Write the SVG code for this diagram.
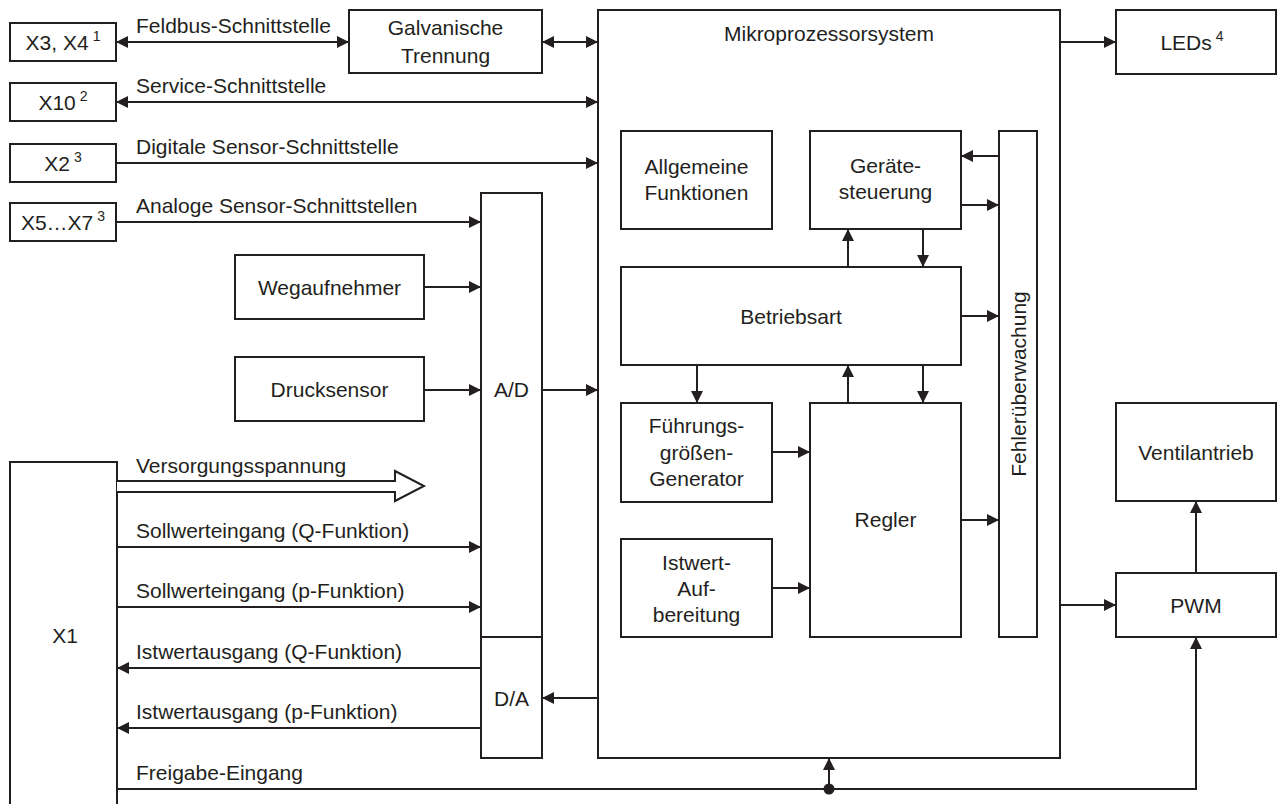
<svg xmlns="http://www.w3.org/2000/svg" width="1279" height="804" viewBox="0 0 1279 804">
<style>
.box{fill:#fff;stroke:#231f20;stroke-width:2}
.ln{fill:none;stroke:#231f20;stroke-width:2}
.t{font-family:"Liberation Sans",Arial,Helvetica,sans-serif;font-size:21px;fill:#231f20}
.c{text-anchor:middle}
.sup{font-size:14px}
</style>
<defs>
<marker id="ah" markerUnits="userSpaceOnUse" markerWidth="12" markerHeight="12" refX="12" refY="6" orient="auto-start-reverse">
<path d="M0,0 L12,6 L0,12 Z" fill="#231f20"/>
</marker>
</defs>
<rect width="1279" height="804" fill="#fff"/>

<g id="micro"><rect class="box" x="598" y="10" width="462" height="748"/><text class="t c" x="829" y="41">Mikroprozessorsystem</text></g>
<g id="x3x4"><rect class="box" x="10" y="23" width="106" height="38"/><text class="t c" x="63" y="50">X3, X4<tspan class="sup" dx="4" dy="-9">1</tspan></text></g>
<g id="x10"><rect class="box" x="10" y="83" width="106" height="38"/><text class="t c" x="63" y="110">X10<tspan class="sup" dx="4" dy="-9">2</tspan></text></g>
<g id="x2"><rect class="box" x="10" y="144" width="106" height="38"/><text class="t c" x="63" y="171">X2<tspan class="sup" dx="4" dy="-9">3</tspan></text></g>
<g id="x5x7"><rect class="box" x="10" y="203" width="106" height="38"/><text class="t c" x="63" y="230">X5…X7<tspan class="sup" dx="4" dy="-9">3</tspan></text></g>
<g id="galv"><rect class="box" x="349" y="10" width="193" height="63"/><text class="t c" x="445.5" y="35">Galvanische</text><text class="t c" x="445.5" y="63">Trennung</text></g>
<g id="weg"><rect class="box" x="235" y="255" width="189" height="64"/><text class="t c" x="329.5" y="294.5">Wegaufnehmer</text></g>
<g id="druck"><rect class="box" x="235" y="357" width="189" height="64"/><text class="t c" x="329.5" y="396.5">Drucksensor</text></g>
<g id="ad"><rect class="box" x="481" y="193" width="61" height="444"/><text class="t c" x="511.5" y="397">A/D</text></g>
<g id="da"><rect class="box" x="481" y="637" width="61" height="121"/><text class="t c" x="511.5" y="705.5">D/A</text></g>
<g id="x1"><rect class="box" x="10" y="462" width="107" height="380"/><text class="t c" x="65" y="643">X1</text></g>
<g id="allg"><rect class="box" x="621" y="131" width="151" height="98"/><text class="t c" x="696.5" y="174">Allgemeine</text><text class="t c" x="696.5" y="200">Funktionen</text></g>
<g id="geraete"><rect class="box" x="810" y="131" width="151" height="98"/><text class="t c" x="885.5" y="173">Geräte-</text><text class="t c" x="885.5" y="199">steuerung</text></g>
<g id="betrieb"><rect class="box" x="621" y="267" width="340" height="98"/><text class="t c" x="791" y="323.5">Betriebsart</text></g>
<g id="fuehr"><rect class="box" x="621" y="403" width="151" height="99"/><text class="t c" x="696.5" y="433">Führungs-</text><text class="t c" x="696.5" y="460">größen-</text><text class="t c" x="696.5" y="486">Generator</text></g>
<g id="regler"><rect class="box" x="810" y="403" width="151" height="234"/><text class="t c" x="885.5" y="527">Regler</text></g>
<g id="istwert"><rect class="box" x="621" y="539" width="151" height="98"/><text class="t c" x="696.5" y="570">Istwert-</text><text class="t c" x="696.5" y="596">Auf-</text><text class="t c" x="696.5" y="622">bereitung</text></g>
<g id="fehler"><rect class="box" x="999" y="131" width="38" height="506"/><text class="t c" transform="translate(1025.5,384) rotate(-90)">Fehlerüberwachung</text></g>
<g id="leds"><rect class="box" x="1116" y="10" width="160" height="64"/><text class="t c" x="1192" y="50">LEDs<tspan class="sup" dx="4" dy="-9">4</tspan></text></g>
<g id="ventil"><rect class="box" x="1116" y="403" width="160" height="98"/><text class="t c" x="1196" y="459.5">Ventilantrieb</text></g>
<g id="pwm"><rect class="box" x="1116" y="573" width="160" height="64"/><text class="t c" x="1196" y="612.5">PWM</text></g>

<g id="connectors">
<path class="ln" d="M116,42 H349" marker-start="url(#ah)" marker-end="url(#ah)"/>
<path class="ln" d="M542,42 H598" marker-start="url(#ah)" marker-end="url(#ah)"/>
<path class="ln" d="M116,102 H598" marker-start="url(#ah)" marker-end="url(#ah)"/>
<path class="ln" d="M116,163 H598" marker-end="url(#ah)"/>
<path class="ln" d="M116,222 H481" marker-end="url(#ah)"/>
<path class="ln" d="M424,287 H481" marker-end="url(#ah)"/>
<path class="ln" d="M424,390 H481" marker-end="url(#ah)"/>
<path class="ln" d="M542,390 H598" marker-end="url(#ah)"/>
<path class="ln" d="M117,481 H395 V471 L424,486 L395,501 V492 H117" style="fill:#fff"/>
<path class="ln" d="M117,547 H481" marker-end="url(#ah)"/>
<path class="ln" d="M117,607 H481" marker-end="url(#ah)"/>
<path class="ln" d="M481,668 H117" marker-end="url(#ah)"/>
<path class="ln" d="M481,728 H117" marker-end="url(#ah)"/>
<path class="ln" d="M598,698 H542" marker-end="url(#ah)"/>
<path class="ln" d="M117,789 H1196 V637" marker-end="url(#ah)"/>
<path class="ln" d="M829,789 V758" marker-end="url(#ah)"/>
<circle cx="829" cy="789" r="5.5" fill="#231f20"/>
<path class="ln" d="M1060,42 H1116" marker-end="url(#ah)"/>
<path class="ln" d="M1060,605 H1116" marker-end="url(#ah)"/>
<path class="ln" d="M1196,573 V501" marker-end="url(#ah)"/>
<path class="ln" d="M999,156 H961" marker-end="url(#ah)"/>
<path class="ln" d="M961,205 H999" marker-end="url(#ah)"/>
<path class="ln" d="M961,316 H999" marker-end="url(#ah)"/>
<path class="ln" d="M961,520 H999" marker-end="url(#ah)"/>
<path class="ln" d="M848,267 V229" marker-end="url(#ah)"/>
<path class="ln" d="M923,229 V267" marker-end="url(#ah)"/>
<path class="ln" d="M697,365 V403" marker-end="url(#ah)"/>
<path class="ln" d="M848,403 V365" marker-end="url(#ah)"/>
<path class="ln" d="M923,365 V403" marker-end="url(#ah)"/>
<path class="ln" d="M772,452 H810" marker-end="url(#ah)"/>
<path class="ln" d="M772,588 H810" marker-end="url(#ah)"/>
</g>
<g id="labels">
<text class="t" x="136" y="33">Feldbus-Schnittstelle</text>
<text class="t" x="136" y="93">Service-Schnittstelle</text>
<text class="t" x="136" y="154">Digitale Sensor-Schnittstelle</text>
<text class="t" x="136" y="213">Analoge Sensor-Schnittstellen</text>
<text class="t" x="136" y="473">Versorgungsspannung</text>
<text class="t" x="136" y="538">Sollwerteingang (Q-Funktion)</text>
<text class="t" x="136" y="598">Sollwerteingang (p-Funktion)</text>
<text class="t" x="136" y="659">Istwertausgang (Q-Funktion)</text>
<text class="t" x="136" y="719">Istwertausgang (p-Funktion)</text>
<text class="t" x="136" y="780">Freigabe-Eingang</text>
</g>
</svg>
